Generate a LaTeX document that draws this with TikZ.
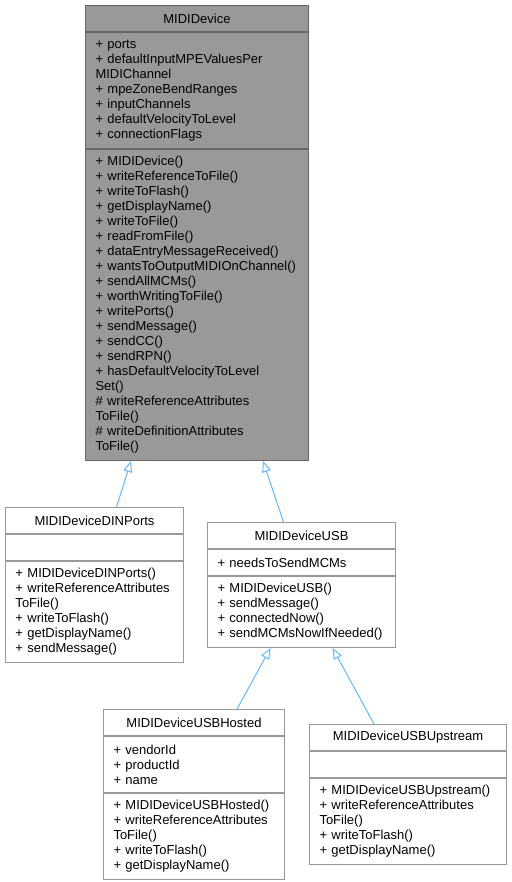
\documentclass[tikz,border=0pt]{standalone}
\usepackage{fontspec}
\setmainfont{Liberation Sans}
\usepackage{xcolor}
\usepackage{tikz}
\usetikzlibrary{positioning, arrows.meta}

\definecolor{basefill}{HTML}{999999}
\definecolor{baseline}{HTML}{666666}
\definecolor{boxline}{HTML}{999999}
\definecolor{edgeblue}{HTML}{63B8FF}

\tikzset{
  part/.style={draw=boxline, fill=white, line width=1pt, anchor=north west,
    inner xsep=10pt, inner ysep=0pt, align=left, font=\fontsize{13}{15}\selectfont},
  head/.style={part, align=center, minimum height=26pt},
  base/.style={draw=baseline, fill=basefill},
  inherit/.style={draw=edgeblue, line width=1pt, -{Triangle[fill=white, length=11pt, width=9pt]}},
}

\begin{document}
\begin{tikzpicture}[x=1pt, y=-1pt]
\useasboundingbox (0,0) rectangle (511,882);

% base class
\node[head, base, minimum width=223pt, text width=203pt] (dev) at (85,5) {MIDIDevice};
\node[part, base, minimum width=223pt, text width=203pt, minimum height=116pt] (dev-attr) at (dev.south west)
  {+ ports\\+ defaultInputMPEValuesPer\\MIDIChannel\\+ mpeZoneBendRanges\\+ inputChannels\\+ defaultVelocityToLevel\\+ connectionFlags};
\node[part, base, minimum width=223pt, text width=203pt, minimum height=311pt] (dev-ops) at (dev-attr.south west)
  {+ MIDIDevice()\\+ writeReferenceToFile()\\+ writeToFlash()\\+ getDisplayName()\\+ writeToFile()\\+ readFromFile()\\+ dataEntryMessageReceived()\\+ wantsToOutputMIDIOnChannel()\\+ sendAllMCMs()\\+ worthWritingToFile()\\+ writePorts()\\+ sendMessage()\\+ sendCC()\\+ sendRPN()\\+ hasDefaultVelocityToLevel\\Set()\\\# writeReferenceAttributes\\ToFile()\\\# writeDefinitionAttributes\\ToFile()};

% DIN ports
\node[head, minimum width=178pt, text width=158pt] (din) at (5,507) {MIDIDeviceDINPorts};
\node[part, minimum width=178pt, text width=158pt, minimum height=26pt] (din-attr) at (din.south west) {};
\node[part, minimum width=178pt, text width=158pt, minimum height=101pt] (din-ops) at (din-attr.south west)
  {+ MIDIDeviceDINPorts()\\+ writeReferenceAttributes\\ToFile()\\+ writeToFlash()\\+ getDisplayName()\\+ sendMessage()};

% USB
\node[head, minimum width=188pt, text width=168pt] (usb) at (207,522) {MIDIDeviceUSB};
\node[part, minimum width=188pt, text width=168pt, minimum height=26pt] (usb-attr) at (usb.south west) {+ needsToSendMCMs};
\node[part, minimum width=188pt, text width=168pt, minimum height=71pt] (usb-ops) at (usb-attr.south west)
  {+ MIDIDeviceUSB()\\+ sendMessage()\\+ connectedNow()\\+ sendMCMsNowIfNeeded()};

% USB hosted
\node[head, minimum width=181pt, text width=161pt] (host) at (103,709) {MIDIDeviceUSBHosted};
\node[part, minimum width=181pt, text width=161pt, minimum height=56pt] (host-attr) at (host.south west)
  {+ vendorId\\+ productId\\+ name};
\node[part, minimum width=181pt, text width=161pt, minimum height=86pt] (host-ops) at (host-attr.south west)
  {+ MIDIDeviceUSBHosted()\\+ writeReferenceAttributes\\ToFile()\\+ writeToFlash()\\+ getDisplayName()};

% USB upstream
\node[head, minimum width=197pt, text width=177pt] (up) at (309,724) {MIDIDeviceUSBUpstream};
\node[part, minimum width=197pt, text width=177pt, minimum height=26pt] (up-attr) at (up.south west) {};
\node[part, minimum width=197pt, text width=177pt, minimum height=86pt] (up-ops) at (up-attr.south west)
  {+ MIDIDeviceUSBUpstream()\\+ writeReferenceAttributes\\ToFile()\\+ writeToFlash()\\+ getDisplayName()};

% inheritance
\foreach \child/\cs/\parent/\ps in {din/22/dev-ops/-66, usb/-18/dev-ops/66, host/43/usb-ops/-31, up/-34/usb-ops/31}
  \draw[inherit] ([xshift=\cs pt]\child.north) -- ([xshift=\ps pt]\parent.south);

\end{tikzpicture}
\end{document}
